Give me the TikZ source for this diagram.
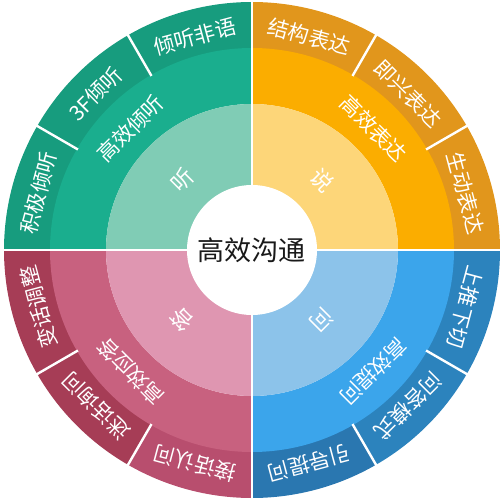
\documentclass[tikz,border=0pt]{standalone}
\usepackage{fontspec}
\setmainfont{Noto Sans CJK SC}
\definecolor{gOut}{HTML}{179C7E}
\definecolor{gMid}{HTML}{1AAE8E}
\definecolor{gIn}{HTML}{80CCB5}
\definecolor{oOut}{HTML}{E1961C}
\definecolor{oMid}{HTML}{FBAD00}
\definecolor{oIn}{HTML}{FDD679}
\definecolor{bOut}{HTML}{2C83BD}
\definecolor{bOutD}{HTML}{2A77B0}
\definecolor{bMid}{HTML}{3BA5EB}
\definecolor{bIn}{HTML}{8CC3EA}
\definecolor{pOut}{HTML}{A63D56}
\definecolor{pOutL}{HTML}{B84E6E}
\definecolor{pMid}{HTML}{C8617F}
\definecolor{pIn}{HTML}{DF96B1}
\newcommand\ringseg[5]{\fill[#1] (#2:#4pt) arc[start angle=#2, end angle=#3, radius=#4pt] -- (#3:#5pt) arc[start angle=#3, end angle=#2, radius=#5pt] -- cycle;}
\tikzset{
  gapline/.style={draw=white, line width=2.4pt},
  outlbl/.style={text=white, font=\fontsize{21}{23}\selectfont, inner sep=0pt},
  midlbl/.style={text=white, font=\fontsize{21}{23}\selectfont, inner sep=0pt},
  inlbl/.style={text=white, font=\fontsize{22}{24}\selectfont, inner sep=0pt},
  hub/.style={circle, fill=white, minimum size=130pt, inner sep=0pt, text=black!90, font=\fontsize{27}{30}\selectfont}
}
\begin{document}
\begin{tikzpicture}[x=1pt,y=1pt]
\useasboundingbox (-252pt,-251pt) rectangle (252pt,250pt);
% outer ring
\ringseg{gOut}{90}{120}{200}{248}
\ringseg{gOut}{120}{150}{200}{248}
\ringseg{gOut}{150}{180}{200}{248}
\ringseg{oOut}{0}{30}{200}{248}
\ringseg{oOut}{30}{60}{200}{248}
\ringseg{oOut}{60}{90}{200}{248}
\ringseg{bOutD}{270}{300}{200}{248}
\ringseg{bOut}{300}{330}{200}{248}
\ringseg{bOut}{330}{360}{200}{248}
\ringseg{pOut}{180}{210}{200}{248}
\ringseg{pOut}{210}{240}{200}{248}
\ringseg{pOutL}{240}{270}{200}{248}
% middle ring
\ringseg{gMid}{90}{180}{146}{202}
\ringseg{oMid}{0}{90}{146}{202}
\ringseg{bMid}{270}{360}{146}{202}
\ringseg{pMid}{180}{270}{146}{202}
% inner ring
\ringseg{gIn}{90}{180}{60}{146}
\ringseg{oIn}{0}{90}{60}{146}
\ringseg{bIn}{270}{360}{60}{146}
\ringseg{pIn}{180}{270}{60}{146}
% gaps
\coordinate (c) at (0,0);
\foreach \a in {0,90,180,270} {\draw[gapline] (c) -- (\a:250pt);}
\foreach \a in {30,60,120,150,210,240,300,330} {\draw[gapline] (\a:201pt) -- (\a:250pt);}
% hub
\node[hub] (hub) at (c) {高效沟通};
% outer labels
\node[outlbl, rotate=15] (l1) at (105:221pt) {倾听非语};
\node[outlbl, rotate=45] (l2) at (135:221pt) {3F倾听};
\node[outlbl, rotate=75] (l3) at (165:221pt) {积极倾听};
\node[outlbl, rotate=-15] (l4) at (75:221pt) {结构表达};
\node[outlbl, rotate=-45] (l5) at (45:221pt) {即兴表达};
\node[outlbl, rotate=-75] (l6) at (15:221pt) {生动表达};
\node[outlbl, rotate=-105] (l7) at (-15:221pt) {上推下切};
\node[outlbl, rotate=-135] (l8) at (-45:221pt) {问答模式};
\node[outlbl, rotate=-165] (l9) at (-75:221pt) {引导提问};
\node[outlbl, rotate=165] (l10) at (255:221pt) {接话认问};
\node[outlbl, rotate=135] (l11) at (225:221pt) {迷话询问};
\node[outlbl, rotate=105] (l12) at (195:221pt) {变话调整};
% middle labels
\node[midlbl, rotate=45] (m1) at (135:172pt) {高效倾听};
\node[midlbl, rotate=-45] (m2) at (45:172pt) {高效表达};
\node[midlbl, rotate=-135] (m3) at (-45:172pt) {高效提问};
\node[midlbl, rotate=135] (m4) at (225:172pt) {高效应答};
% inner labels
\node[inlbl, rotate=45] (i1) at (135:99pt) {听};
\node[inlbl, rotate=-45] (i2) at (45:99pt) {说};
\node[inlbl, rotate=-135] (i3) at (-45:99pt) {问};
\node[inlbl, rotate=135] (i4) at (225:99pt) {答};
\end{tikzpicture}
\end{document}
